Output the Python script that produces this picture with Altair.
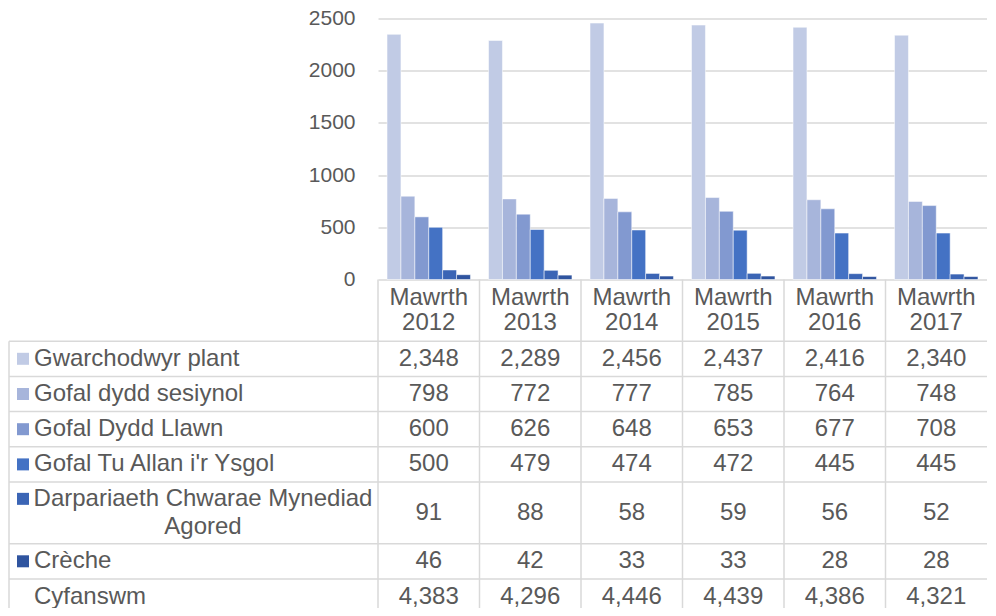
import textwrap
import altair as alt
import pandas as pd

# ---------------- data ----------------
categories = ["Mawrth 2012", "Mawrth 2013", "Mawrth 2014", "Mawrth 2015", "Mawrth 2016", "Mawrth 2017"]
series = [
    "Gwarchodwyr plant",
    "Gofal dydd sesiynol",
    "Gofal Dydd Llawn",
    "Gofal Tu Allan i'r Ysgol",
    "Darpariaeth Chwarae Mynediad Agored",
    "Crèche",
]
gwarchodwyr_plant = [2348, 2289, 2456, 2437, 2416, 2340]
gofal_dydd_sesiynol = [798, 772, 777, 785, 764, 748]
gofal_dydd_llawn = [600, 626, 648, 653, 677, 708]
gofal_tu_allan = [500, 479, 474, 472, 445, 445]
darpariaeth_chwarae = [91, 88, 58, 59, 56, 52]
creche = [46, 42, 33, 33, 28, 28]
total_label = "Cyfanswm"
cyfanswm = [4383, 4296, 4446, 4439, 4386, 4321]
y_ticks = [0, 500, 1000, 1500, 2000, 2500]

series_values = [gwarchodwyr_plant, gofal_dydd_sesiynol, gofal_dydd_llawn,
                 gofal_tu_allan, darpariaeth_chwarae, creche]

# ---------------- styling ----------------
colors = ["#C1CBE5", "#A7B5DB", "#8299D0", "#4472C4", "#3B65B5", "#2F549F"]
FONT = "Liberation Sans"
TXT = "#595959"
GRID = "#D9D9D9"

BAND = 101.5                      # width of one year column
W = BAND * len(categories)
H1 = 261                          # bar area height
LABEL_COL = 369                   # width of the row-label column
ROW_BASE = 35.2                   # one-line table row
LINE_EXTRA = 26.5                 # each extra text line
WRAP = 28
VISIBLE_H = 589                   # visible plot height (table is cut at the bottom)

def row_h(n_lines):
    return ROW_BASE + (n_lines - 1) * LINE_EXTRA

# ---------------- table layout ----------------
LH_HEAD = 25.5
LH_LABEL = 28
header_lines = max(len(c.split(" ")) for c in categories)
rows = [(s, textwrap.wrap(s, WRAP), s) for s in series] + [(total_label, [total_label], None)]
row_vals = series_values + [cyfanswm]

pos = row_h(header_lines)
header_first = pos / 2 - (header_lines - 1) * LH_HEAD / 2
row_info = []
for (name, lines, ser), vals in zip(rows, row_vals):
    h = row_h(len(lines))
    row_info.append(dict(name=name, lines=lines, series=ser, top=pos, bottom=pos + h,
                         center=pos + h / 2,
                         first=pos + h / 2 - (len(lines) - 1) * LH_LABEL / 2,
                         vals=vals))
    pos += h
H2 = pos

# ---------------- data frames ----------------
bars_df = pd.DataFrame([
    dict(cat=c, series=s, value=v)
    for s, vals in zip(series, series_values)
    for c, v in zip(categories, vals)
])
header_df = pd.DataFrame([dict(cat=c, y=header_first) for c in categories])
cells_df = pd.DataFrame([
    dict(cat=c, y=r["center"], value=v)
    for r in row_info for c, v in zip(categories, r["vals"])
])
single_df = pd.DataFrame([dict(label=r["name"], y=r["center"]) for r in row_info if len(r["lines"]) == 1])
multi_df = pd.DataFrame([dict(label="\n".join(r["lines"]), y=r["first"]) for r in row_info if len(r["lines"]) > 1])
square_df = pd.DataFrame([dict(series=r["series"], y=r["first"]) for r in row_info if r["series"] is not None])
hline_df = pd.DataFrame([dict(y=r["top"]) for r in row_info])
vline_df = pd.DataFrame([dict(cat=c, y=0, y2=H2) for c in categories])
left_df = pd.DataFrame([dict(y=row_info[0]["top"], y2=H2)])

# ---------------- scales ----------------
band_scale = alt.Scale(paddingInner=0, paddingOuter=0)
x_enc = alt.X("cat:N", sort=categories, axis=None, scale=band_scale)
tscale = alt.Scale(domain=[0, H2], range=[H1, H1 + H2], nice=False, zero=False)
color_scale = alt.Scale(domain=series, range=colors)

bars = alt.Chart(bars_df).mark_bar(stroke="white", strokeWidth=0.5).encode(
    x=x_enc,
    xOffset=alt.XOffset("series:N", sort=series,
                        scale=alt.Scale(paddingInner=0, paddingOuter=0.65)),
    y=alt.Y("value:Q",
            scale=alt.Scale(domain=[0, 2500], range=[H1, 0], nice=False),
            axis=alt.Axis(values=y_ticks, format="d", title=None, ticks=False, domain=False,
                          labelPadding=23, labelFontSize=21, labelFont=FONT,
                          labelColor=TXT, grid=True, gridColor=GRID, gridWidth=1.3)),
    color=alt.Color("series:N", scale=color_scale, legend=None),
)

hlines = alt.Chart(hline_df).mark_rule(color=GRID, strokeWidth=1.5).encode(
    y=alt.Y("y:Q", scale=tscale, axis=None),
    x=alt.value(-LABEL_COL), x2=alt.value(W),
)
vlines = alt.Chart(vline_df).mark_rule(color=GRID, strokeWidth=1.5).encode(
    x=alt.X("cat:N", sort=categories, axis=None, bandPosition=0, scale=band_scale),
    y=alt.Y("y:Q", scale=tscale, axis=None), y2="y2:Q",
)
left_line = alt.Chart(left_df).mark_rule(color=GRID, strokeWidth=1.5).encode(
    x=alt.value(-LABEL_COL),
    y=alt.Y("y:Q", scale=tscale, axis=None), y2="y2:Q",
)
header = alt.Chart(header_df).mark_text(
    lineBreak=" ", fontSize=24, lineHeight=LH_HEAD, font=FONT, color=TXT, baseline="middle"
).encode(x=x_enc, y=alt.Y("y:Q", scale=tscale, axis=None), text="cat:N")

cells = alt.Chart(cells_df).mark_text(
    fontSize=24, font=FONT, color=TXT, baseline="middle"
).encode(x=x_enc, y=alt.Y("y:Q", scale=tscale, axis=None),
         text=alt.Text("value:Q", format=","))

labels1 = alt.Chart(single_df).mark_text(
    fontSize=24, font=FONT, color=TXT, baseline="middle", align="left"
).encode(x=alt.value(-LABEL_COL + 25), y=alt.Y("y:Q", scale=tscale, axis=None), text="label:N")

labels2 = alt.Chart(multi_df).mark_text(
    fontSize=24, font=FONT, color=TXT, baseline="middle", align="center",
    lineBreak="\n", lineHeight=LH_LABEL
).encode(x=alt.value(-175), y=alt.Y("y:Q", scale=tscale, axis=None), text="label:N")

squares = alt.Chart(square_df).mark_point(
    shape="square", filled=True, size=144, opacity=1, strokeWidth=0
).encode(x=alt.value(-LABEL_COL + 14), y=alt.Y("y:Q", scale=tscale, axis=None),
         color=alt.Color("series:N", scale=color_scale, legend=None))

chart = alt.layer(
    bars, hlines, vlines, left_line, header, cells, labels1, labels2, squares
).resolve_scale(y="independent").properties(
    width=W, height=VISIBLE_H,
    autosize=alt.AutoSizeParams(type="none"),
    padding={"left": LABEL_COL + 1, "top": 10.5, "right": 0, "bottom": 0},
    background="white",
).configure_view(stroke=None)

chart.save("out.html", embed_options={"renderer": "svg", "actions": False})
